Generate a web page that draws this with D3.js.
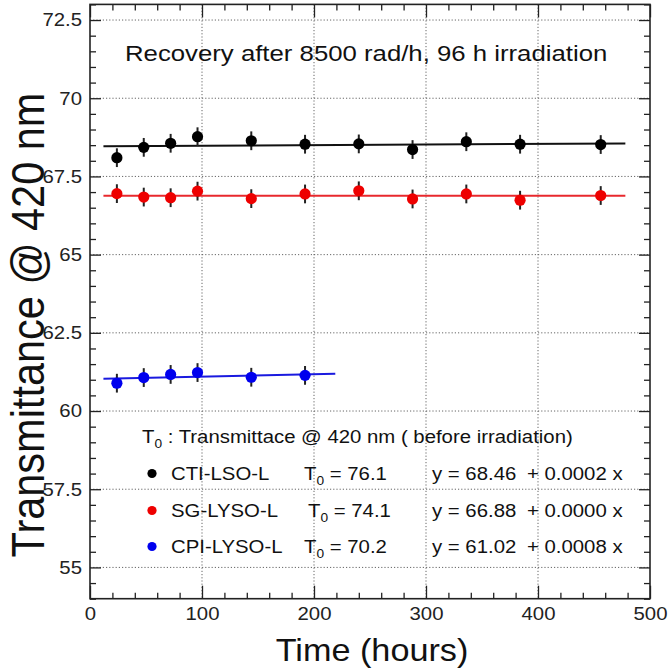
<!DOCTYPE html>
<html>
<head>
<meta charset="utf-8">
<script src="https://cdn.jsdelivr.net/npm/d3@7"></script>
<style>
  html, body { margin: 0; padding: 0; background: #fff; }
  svg { display: block; font-family: "Liberation Sans", Arial, Helvetica, sans-serif; }
</style>
</head>
<body>
<svg id="chart" width="668" height="672"></svg>
<script>
// ---- data ----
const times = [24, 48, 72, 96, 144, 192, 240, 288, 336, 384, 456];
const ctiValues = [68.10, 68.43, 68.56, 68.77, 68.64, 68.53, 68.54, 68.36, 68.61, 68.53, 68.52];
const sgValues  = [66.95, 66.84, 66.82, 67.03, 66.79, 66.94, 67.04, 66.78, 66.94, 66.74, 66.89];
const cpiTimes  = [24, 48, 72, 96, 144, 192];
const cpiValues = [60.89, 61.07, 61.17, 61.23, 61.08, 61.14];
const ctiErrors = [0.3, 0.3, 0.3, 0.3, 0.3, 0.3, 0.3, 0.3, 0.3, 0.3, 0.3];
const sgErrors  = [0.3, 0.3, 0.3, 0.3, 0.3, 0.3, 0.3, 0.3, 0.3, 0.3, 0.3];
const cpiErrors = [0.3, 0.3, 0.3, 0.3, 0.3, 0.3];

const seriesNames = ["CTI-LSO-L", "SG-LYSO-L", "CPI-LYSO-L"];
const t0Values = ["76.1", "74.1", "70.2"];
const fitIntercepts = [68.46, 66.88, 61.02];
const fitSlopes = [0.0002, 0.0000, 0.0008];
const fitRanges = [[12, 478], [12, 478], [12, 219]];
const fitLabels = ["0.0002", "0.0000", "0.0008"];
const interceptLabels = ["68.46", "66.88", "61.02"];

const xMajorTicks = [0, 100, 200, 300, 400, 500];
const yMajorTicks = [55, 57.5, 60, 62.5, 65, 67.5, 70, 72.5];
const yTickLabels = ["55", "57.5", "60", "62.5", "65", "67.5", "70", "72.5"];

const titleText = "Recovery after 8500 rad/h, 96 h irradiation";
const xTitle = "Time (hours)";
const yTitle = "Transmittance @ 420 nm";
const legendHeader = " : Transmittace @ 420 nm ( before irradiation)";

// ---- layout ----
const plot = { left: 90, top: 4.4, right: 650, bottom: 598.7 };
const pointColors = ["#000000", "#ee0000", "#0000ee"];
const lineColors = ["#111111", "#e8282d", "#1a1adf"];
const stretch = 1.1;

const svg = d3.select("#chart");
const x = d3.scaleLinear().domain([0, 500]).range([plot.left, plot.right]);
const y = d3.scaleLinear().domain([54, 73]).range([plot.bottom, plot.top]);

const xMinor = d3.range(0, 501, 20).filter(v => xMajorTicks.indexOf(v) < 0);
const yMinor = d3.range(54, 73.01, 0.5).map(v => +v.toFixed(1)).filter(v => yMajorTicks.indexOf(v) < 0);

// helper: text group at (px,py), horizontally stretched
function textAt(px, py, size, k, anchor) {
  const g = svg.append("g").attr("transform", `translate(${px},${py}) scale(${k},1)`);
  return g.append("text").attr("x", 0).attr("y", 0).attr("font-size", size)
    .attr("fill", "#111").attr("text-anchor", anchor || "start");
}

// grid
const grid = svg.append("g").attr("stroke", "#666").attr("stroke-width", 1).attr("stroke-dasharray", "1.2,2");
grid.selectAll("line.gx").data(xMajorTicks.filter(v => v > 0 && v < 500)).join("line")
  .attr("x1", d => x(d)).attr("x2", d => x(d)).attr("y1", plot.top).attr("y2", plot.bottom);
grid.selectAll("line.gy").data(yMajorTicks).join("line")
  .attr("y1", d => y(d)).attr("y2", d => y(d)).attr("x1", plot.left).attr("x2", plot.right);

// axes (ticks inside)
function styleAxis(g) {
  g.select(".domain").remove();
  g.selectAll(".tick line").attr("stroke", "#222").attr("stroke-width", 1.3);
}
const fs = 18.5;
svg.append("g").attr("transform", `translate(${plot.left},0)`)
  .call(d3.axisLeft(y).tickValues(yMajorTicks).tickSizeInner(-11).tickSizeOuter(0).tickPadding(8)
    .tickFormat((d, i) => yTickLabels[i]))
  .call(styleAxis)
  .call(g => g.selectAll("text").attr("font-size", fs).attr("fill", "#222")
    .attr("font-family", "Liberation Sans, Arial, sans-serif")
    .attr("transform", `translate(-8,0) scale(${stretch},1) translate(8,0)`));
svg.append("g").attr("transform", `translate(${plot.left},0)`)
  .call(d3.axisLeft(y).tickValues(yMinor).tickSizeInner(-6).tickSizeOuter(0).tickFormat(""))
  .call(styleAxis);
svg.append("g").attr("transform", `translate(${plot.right},0)`)
  .call(d3.axisRight(y).tickValues(yMajorTicks).tickSizeInner(-11).tickSizeOuter(0).tickFormat(""))
  .call(styleAxis);
svg.append("g").attr("transform", `translate(${plot.right},0)`)
  .call(d3.axisRight(y).tickValues(yMinor).tickSizeInner(-6).tickSizeOuter(0).tickFormat(""))
  .call(styleAxis);
svg.append("g").attr("transform", `translate(0,${plot.bottom})`)
  .call(d3.axisBottom(x).tickValues(xMajorTicks).tickSizeInner(-13).tickSizeOuter(0).tickPadding(8)
    .tickFormat(d3.format("d")))
  .call(styleAxis)
  .call(g => g.selectAll("text").attr("font-size", fs).attr("fill", "#222")
    .attr("font-family", "Liberation Sans, Arial, sans-serif")
    .attr("transform", `scale(${stretch},1)`));
svg.append("g").attr("transform", `translate(0,${plot.bottom})`)
  .call(d3.axisBottom(x).tickValues(xMinor).tickSizeInner(-6).tickSizeOuter(0).tickFormat(""))
  .call(styleAxis);
svg.append("g").attr("transform", `translate(0,${plot.top})`)
  .call(d3.axisTop(x).tickValues(xMajorTicks).tickSizeInner(-13).tickSizeOuter(0).tickFormat(""))
  .call(styleAxis);
svg.append("g").attr("transform", `translate(0,${plot.top})`)
  .call(d3.axisTop(x).tickValues(xMinor).tickSizeInner(-6).tickSizeOuter(0).tickFormat(""))
  .call(styleAxis);

// frame
svg.append("rect").attr("x", plot.left).attr("y", plot.top)
  .attr("width", plot.right - plot.left).attr("height", plot.bottom - plot.top)
  .attr("fill", "none").attr("stroke", "#222").attr("stroke-width", 1.6);

// fit lines
fitRanges.forEach((r, i) => {
  const pts = r.map(t => [x(t), y(fitIntercepts[i] + fitSlopes[i] * t)]);
  svg.append("path").attr("d", d3.line()(pts))
    .attr("stroke", lineColors[i]).attr("stroke-width", 2).attr("fill", "none");
});

// data points with error bars
const series = [
  { t: times, v: ctiValues, e: ctiErrors },
  { t: times, v: sgValues, e: sgErrors },
  { t: cpiTimes, v: cpiValues, e: cpiErrors }
];
series.forEach((s, i) => {
  const g = svg.append("g");
  const data = s.t.map((t, k) => ({ t, v: s.v[k], e: s.e[k] }));
  g.selectAll("line").data(data).join("line")
    .attr("x1", d => x(d.t)).attr("x2", d => x(d.t))
    .attr("y1", d => y(d.v - d.e)).attr("y2", d => y(d.v + d.e))
    .attr("stroke", "#222").attr("stroke-width", 2);
  g.selectAll("circle").data(data).join("circle")
    .attr("cx", d => x(d.t)).attr("cy", d => y(d.v)).attr("r", 5.6)
    .attr("fill", pointColors[i]);
});

// chart title
textAt(125, 61, 22.4, 1.15).text(titleText);

// axis titles
textAt(372, 661, 32, 1.07, "middle").text(xTitle);
svg.append("g").attr("transform", `translate(44,325) scale(${stretch},1) rotate(-90)`)
  .append("text").attr("text-anchor", "middle").attr("font-size", 41.5).attr("fill", "#111").text(yTitle);

// legend
const lf = 18.5;
const head = textAt(142, 443, lf, stretch);
head.append("tspan").text("T");
head.append("tspan").attr("font-size", 12.5).attr("dy", 5).text("0");
head.append("tspan").attr("dy", -5).text(legendHeader);

const rowY = [480, 517, 553];
const t0X = [304, 308, 304];
seriesNames.forEach((name, i) => {
  svg.append("circle").attr("cx", 152).attr("cy", rowY[i] - 6.5).attr("r", 4.6).attr("fill", pointColors[i]);
  textAt(171, rowY[i], lf, stretch).text(name);
  const t = textAt(t0X[i], rowY[i], lf, stretch);
  t.append("tspan").text("T");
  t.append("tspan").attr("font-size", 12.5).attr("dy", 5).text("0");
  t.append("tspan").attr("dy", -5).text(" = " + t0Values[i]);
  textAt(432, rowY[i], lf, stretch).text("y = " + interceptLabels[i]);
  textAt(527, rowY[i], lf, stretch).text("+ " + fitLabels[i] + " x");
});
</script>
</body>
</html>
